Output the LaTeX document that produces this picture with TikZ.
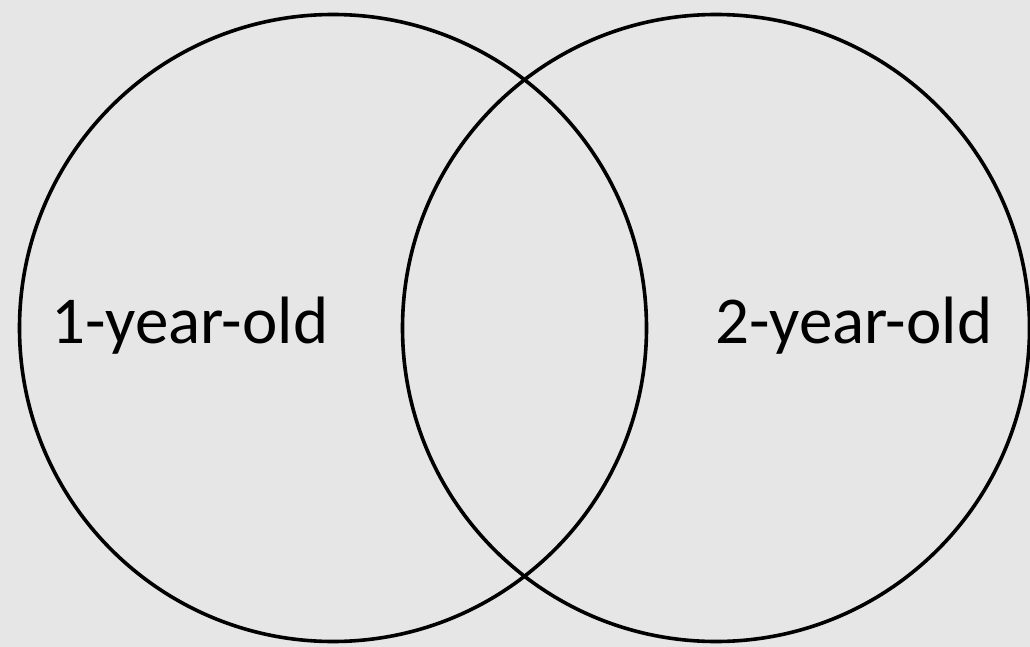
\documentclass[tikz,border=0pt]{standalone}
\usepackage{fontspec}
\setmainfont{Carlito}
\usepackage{tikz}
\definecolor{bgGray}{HTML}{E6E6E6}

\begin{document}
\begin{tikzpicture}[
        x=1pt, y=-1pt,
        setring/.style={circle, draw=black, line width=3.6pt, minimum size=627pt, inner sep=0pt},
        setlabel/.style={font=\fontsize{67}{80}\selectfont, inner sep=0pt, anchor=base}
    ]
    % Background
    \fill[bgGray] (0,0) rectangle (1030,647);
    \useasboundingbox (0,0) rectangle (1030,647);

    % Sets
    \node[setring] (one) at (333,328) {};
    \node[setring] (two) at (716,328) {};

    % Labels
    \node[setlabel] (oneLbl) at (190,343) {1-year-old};
    \node[setlabel] (twoLbl) at (854,343) {2-year-old};
\end{tikzpicture}
\end{document}
